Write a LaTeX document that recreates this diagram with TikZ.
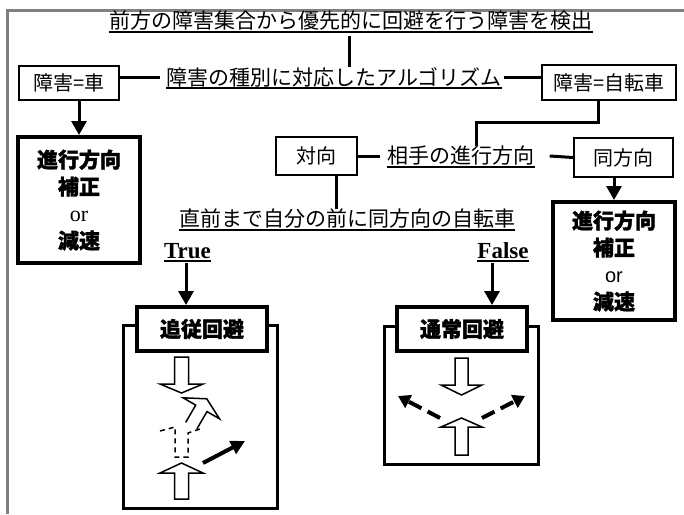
\documentclass[tikz,border=0pt]{standalone}
\usepackage{fontspec}
\setmainfont{Liberation Serif}
\newfontfamily\jp{Noto Sans CJK JP}[BoldFeatures={FakeBold=1.5}]
\newfontfamily\arial{Liberation Sans}
\usetikzlibrary{arrows.meta,calc}
\begin{document}
\begin{tikzpicture}[x=1pt,y=-1pt,
  conn/.style={line width=3pt},
  arr/.style={line width=3pt,-{Triangle[length=14pt,width=15pt]}},
  thinbox/.style={draw,line width=2pt,font=\jp\fontsize{20}{24}\selectfont,inner sep=0pt},
  boldbox/.style={draw,line width=4pt,align=center,inner sep=0pt,font=\fontsize{21}{27}\selectfont},
  lab/.style={font=\jp\fontsize{21}{24}\selectfont,inner sep=0pt},
  tf/.style={font=\fontsize{23}{26}\selectfont\bfseries,inner sep=0pt},
  labbox/.style={draw,line width=4pt,fill=white,inner sep=0pt,font=\jp\bfseries\fontsize{21}{24}\selectfont,minimum width=130pt,minimum height=44pt},
  outbox/.style={draw,line width=3pt,inner sep=0pt},
  uline/.style={line width=2pt},
  hollow/.style={draw,line width=1.5pt,fill=white,line join=miter},
  ghost/.style={line width=1.5pt,dash pattern=on 5pt off 4pt},
  dasharr/.style={line width=4pt,dash pattern=on 14pt off 7pt,-{Triangle[length=12pt,width=14pt]}},
  solarr/.style={line width=4pt,-{Triangle[length=14pt,width=14pt]}}
]
\useasboundingbox (0,0) rectangle (684,514);
\draw[gray,line width=3pt] (7.5,514) -- (7.5,10) -- (684,10);

% top level
\node[lab] (title) at (351,21) {前方の障害集合から優先的に回避を行う障害を検出};
\draw[uline] ($(title.south west)+(0,1)$) -- ($(title.south east)+(0,1)$);
\node[lab] (algo) at (334,77) {障害の種別に対応したアルゴリズム};
\draw[uline] ($(algo.south west)+(0,1)$) -- ($(algo.south east)+(0,1)$);
\coordinate (vx) at (349,0);
\draw[conn] ($(title.south -| vx)+(0,5)$) -- (algo.north -| vx);

\node[thinbox,minimum width=100pt,minimum height=34pt] (car) at (69,83) {障害=車};
\node[thinbox,minimum width=134pt,minimum height=35pt] (bike) at (609,82.5) {障害=自転車};
\draw[conn] (car.east |- algo.west) -- ([xshift=-6pt]algo.west);
\draw[conn] ([xshift=2pt]algo.east) -- (bike.west |- algo.east);

% car branch
\node[boldbox,minimum width=122pt,minimum height=126pt] (caract) at (79,200)
  {{\jp\bfseries 進行方向}\\{\jp\bfseries 補正}\\{\fontsize{22}{27}\selectfont or}\\{\jp\bfseries 減速}};
\draw[arr] (caract.north |- car.south) -- (caract.north);

% bicycle branch
\node[thinbox,minimum width=81pt,minimum height=38pt] (taikou) at (316.5,156) {対向};
\node[lab] (aite) at (461,156) {相手の進行方向};
\draw[uline] ($(aite.south west)+(0,1)$) -- ($(aite.south east)+(0,1)$);
\node[thinbox,minimum width=99pt,minimum height=39pt] (doho) at (623.5,157.5) {同方向};
\coordinate (b1) at (598,122);
\coordinate (b2) at (476,122);
\draw[conn] (bike.south -| b1) -- (b1) -- (b2) -- (b2 |- aite.north);
\draw[conn] (taikou.east) -- ([xshift=-7pt]aite.west);
\draw[conn] ([xshift=15pt]aite.east) -- (doho.west);

\node[boldbox,minimum width=122pt,minimum height=118pt] (bikeact) at (614,261)
  {{\jp\bfseries 進行方向}\\{\jp\bfseries 補正}\\{\arial\fontsize{20}{27}\selectfont or}\\{\jp\bfseries 減速}};
\draw[arr] (bikeact.north |- doho.south) -- (bikeact.north);

% oncoming
\node[lab] (chok) at (347,219) {直前まで自分の前に同方向の自転車};
\draw[uline] ($(chok.south west)+(0,1)$) -- ($(chok.south east)+(0,1)$);
\coordinate (tx) at (336,0);
\draw[conn] (taikou.south -| tx) -- (chok.north -| tx);

\node[tf] (true) at (187.5,251) {True};
\draw[uline] ($(true.south west)+(0,2)$) -- ($(true.south east)+(0,2)$);
\node[tf] (false) at (503,251) {False};
\draw[uline] ($(false.south west)+(0,2)$) -- ($(false.south east)+(0,2)$);

% follow avoidance
\node[outbox,minimum width=154pt,minimum height=183pt] (fout) at (200,416.5) {};
\node[labbox] (flab) at (202,329) {追従回避};
\coordinate (ts) at ($(true.south)+(-1.5,4)$);
\draw[arr] (ts) -- (ts |- flab.north);

\draw[hollow] (174.5,357) -- (188.5,357) -- (188.5,384) -- (203,384) -- (181.5,393) -- (160,384) -- (174.5,384) -- cycle;
\draw[hollow] (174.5,499) -- (174.5,473) -- (160,473) -- (181.5,463) -- (203,473) -- (188.5,473) -- (188.5,499) -- cycle;
\draw[ghost] (160,431) -- (175,427) -- (175,457) -- (188,457) -- (188,433) -- (200,429);
\draw[hollow] (185.7,422.4) -- (195.7,405.1) -- (183.1,397.8) -- (206.8,398.8) -- (219.5,418.8) -- (207.0,411.6) -- (196.9,428.9);
\draw[solarr] (203,463) -- (245,441);

% normal avoidance
\node[outbox,minimum width=154pt,minimum height=138pt] (nout) at (461,395) {};
\node[labbox] (nlab) at (462,329) {通常回避};
\coordinate (fx) at (492,0);
\coordinate (fs) at ($(false.south)+(0,4)$);
\draw[arr] (fs -| fx) -- (nlab.north -| fx);

\draw[hollow] (455,358) -- (468,358) -- (468,385) -- (482,385) -- (461.5,395) -- (441,385) -- (455,385) -- cycle;
\draw[hollow] (455,455) -- (455,427) -- (441,427) -- (461.5,418) -- (482,427) -- (468,427) -- (468,455) -- cycle;
\draw[dasharr] (440,418) -- (398,396);
\draw[dasharr] (482,418) -- (525,396);
\end{tikzpicture}
\end{document}
